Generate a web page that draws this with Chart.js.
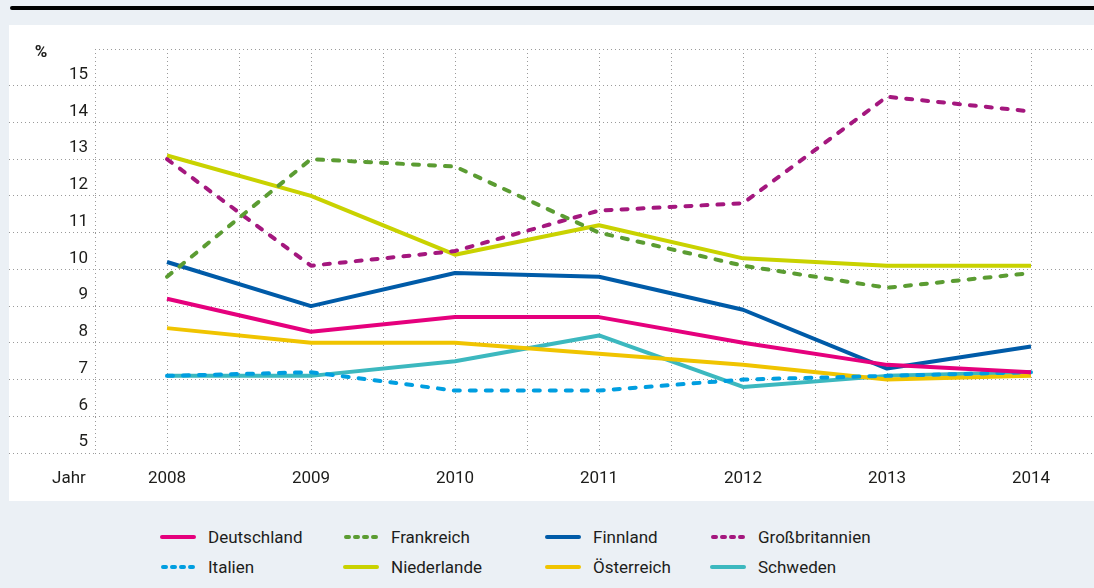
<!DOCTYPE html>
<html lang="de">
<head>
<meta charset="utf-8">
<title>Anteil in Prozent 2008–2014</title>
<script src="https://cdn.jsdelivr.net/npm/chart.js@4/dist/chart.umd.min.js"></script>
<style>
  body { margin: 0; background: #ebf0f5; font-family: Roboto, "DejaVu Sans", sans-serif; color: #1d1d1b; }
  .topline { position: absolute; top: 6px; left: 10px; right: 0; height: 4px; background: #000; border-radius: 2px 0 0 2px; }
  .panel { position: absolute; left: 9px; top: 25px; width: 1085px; height: 476px; background: #fff; }
  #legend { position: absolute; left: 160px; top: 522px; display: grid; grid-template-columns: 183px 202px 165px 200px; grid-auto-rows: 30px; }
  .item { display: flex; align-items: center; font-size: 17px; }
  .item svg { margin-right: 12px; }
</style>
</head>
<body>
<div class="topline"></div>
<div class="panel"><canvas id="chart"></canvas></div>
<div id="legend"></div>
<script>
// Data
const years = [2008, 2009, 2010, 2011, 2012, 2013, 2014];
const deutschland = [9.2, 8.3, 8.7, 8.7, 8.0, 7.4, 7.2];
const frankreich = [9.8, 13.0, 12.8, 11.0, 10.1, 9.5, 9.9];
const finnland = [10.2, 9.0, 9.9, 9.8, 8.9, 7.3, 7.9];
const grossbritannien = [13.0, 10.1, 10.5, 11.6, 11.8, 14.7, 14.3];
const italien = [7.1, 7.2, 6.7, 6.7, 7.0, 7.1, 7.2];
const niederlande = [13.1, 12.0, 10.4, 11.2, 10.3, 10.1, 10.1];
const oesterreich = [8.4, 8.0, 8.0, 7.7, 7.4, 7.0, 7.1];
const schweden = [7.1, 7.1, 7.5, 8.2, 6.8, 7.1, 7.2];
const yTicks = [5, 6, 7, 8, 9, 10, 11, 12, 13, 14, 15];

const series = [
    { label: 'Deutschland', data: deutschland, color: '#e5007d', dashed: false },
    { label: 'Frankreich', data: frankreich, color: '#5b9c32', dashed: true },
    { label: 'Finnland', data: finnland, color: '#005ba8', dashed: false },
    { label: 'Großbritannien', data: grossbritannien, color: '#a4177e', dashed: true },
    { label: 'Italien', data: italien, color: '#009ee0', dashed: true },
    { label: 'Niederlande', data: niederlande, color: '#c9d200', dashed: false },
    { label: 'Österreich', data: oesterreich, color: '#f0c400', dashed: false },
    { label: 'Schweden', data: schweden, color: '#3cb8bf', dashed: false }
];

const gridGrey = '#9a9a9a';
const font = { family: 'Roboto, "DejaVu Sans", sans-serif', size: 17 };

// "%" and "Jahr" captions
const captions = {
    id: 'captions',
    afterDraw(chart) {
        const { ctx, chartArea } = chart;
        ctx.save();
        ctx.fillStyle = '#1d1d1b';
        ctx.textAlign = 'center';
        ctx.textBaseline = 'middle';
        ctx.font = 'bold 17px ' + font.family;
        ctx.fillText('%', chartArea.left - 54, chartArea.top + 4);
        ctx.font = '17px ' + font.family;
        ctx.fillText('Jahr', chartArea.left - 26, chartArea.bottom + 26);
        ctx.restore();
    }
};

const chart = new Chart(document.getElementById('chart'), {
    type: 'line',
    data: {
        datasets: series.map(s => ({
            label: s.label,
            data: years.map((y, i) => ({ x: y, y: s.data[i] })),
            borderColor: s.color,
            backgroundColor: s.color,
            borderWidth: 4,
            borderDash: s.dashed ? [6, 10] : [],
            borderCapStyle: s.dashed ? 'round' : 'butt',
            borderJoinStyle: 'round',
            pointRadius: 0,
            tension: 0
        }))
    },
    options: {
        responsive: true,
        maintainAspectRatio: false,
        animation: false,
        layout: { padding: { top: 24, right: 0, left: 0, bottom: 0 } },
        plugins: { legend: { display: false }, tooltip: { enabled: false } },
        scales: {
            x: {
                type: 'linear',
                min: 2007.5,
                max: 2014.4375,
                // gridlines every half year, labels on the years
                afterBuildTicks: s => { s.ticks = years.flatMap(y => [{ value: y - 0.5 }, { value: y }]); },
                afterFit: s => { s.height = 48; },
                ticks: {
                    autoSkip: false,
                    maxRotation: 0,
                    padding: 16,
                    color: '#1d1d1b',
                    font: font,
                    callback: v => years.includes(v) ? String(v) : ''
                },
                grid: { color: gridGrey, lineWidth: 1, drawTicks: false },
                border: { display: false, dash: [1, 3] }
            },
            y: {
                min: 5,
                max: 16,
                afterBuildTicks: s => { s.ticks = yTicks.concat([16]).map(v => ({ value: v })); },
                afterFit: s => { s.width = 86; },
                ticks: {
                    padding: -79,
                    labelOffset: -11,
                    color: '#1d1d1b',
                    font: font,
                    callback: v => yTicks.includes(v) ? String(v) : ''
                },
                grid: {
                    color: gridGrey,
                    lineWidth: 1,
                    tickLength: 86,
                    tickColor: c => (c.tick && c.tick.value === 16) ? 'rgba(0,0,0,0)' : gridGrey,
                    tickBorderDash: [1, 3]
                },
                border: { display: false, dash: [1, 3] }
            }
        }
    },
    plugins: [captions]
});

// HTML legend in aligned columns
const legend = document.getElementById('legend');
series.forEach(s => {
    const item = document.createElement('div');
    item.className = 'item';
    const dash = s.dashed ? ' stroke-dasharray="3 6" stroke-linecap="round"' : ' stroke-linecap="round"';
    const x1 = s.dashed ? 3 : 2;
    item.innerHTML = `<svg width="36" height="6"><line x1="${x1}" y1="3" x2="34" y2="3" stroke="${s.color}" stroke-width="4"${dash}/></svg><span>${s.label}</span>`;
    legend.appendChild(item);
});
</script>
</body>
</html>
